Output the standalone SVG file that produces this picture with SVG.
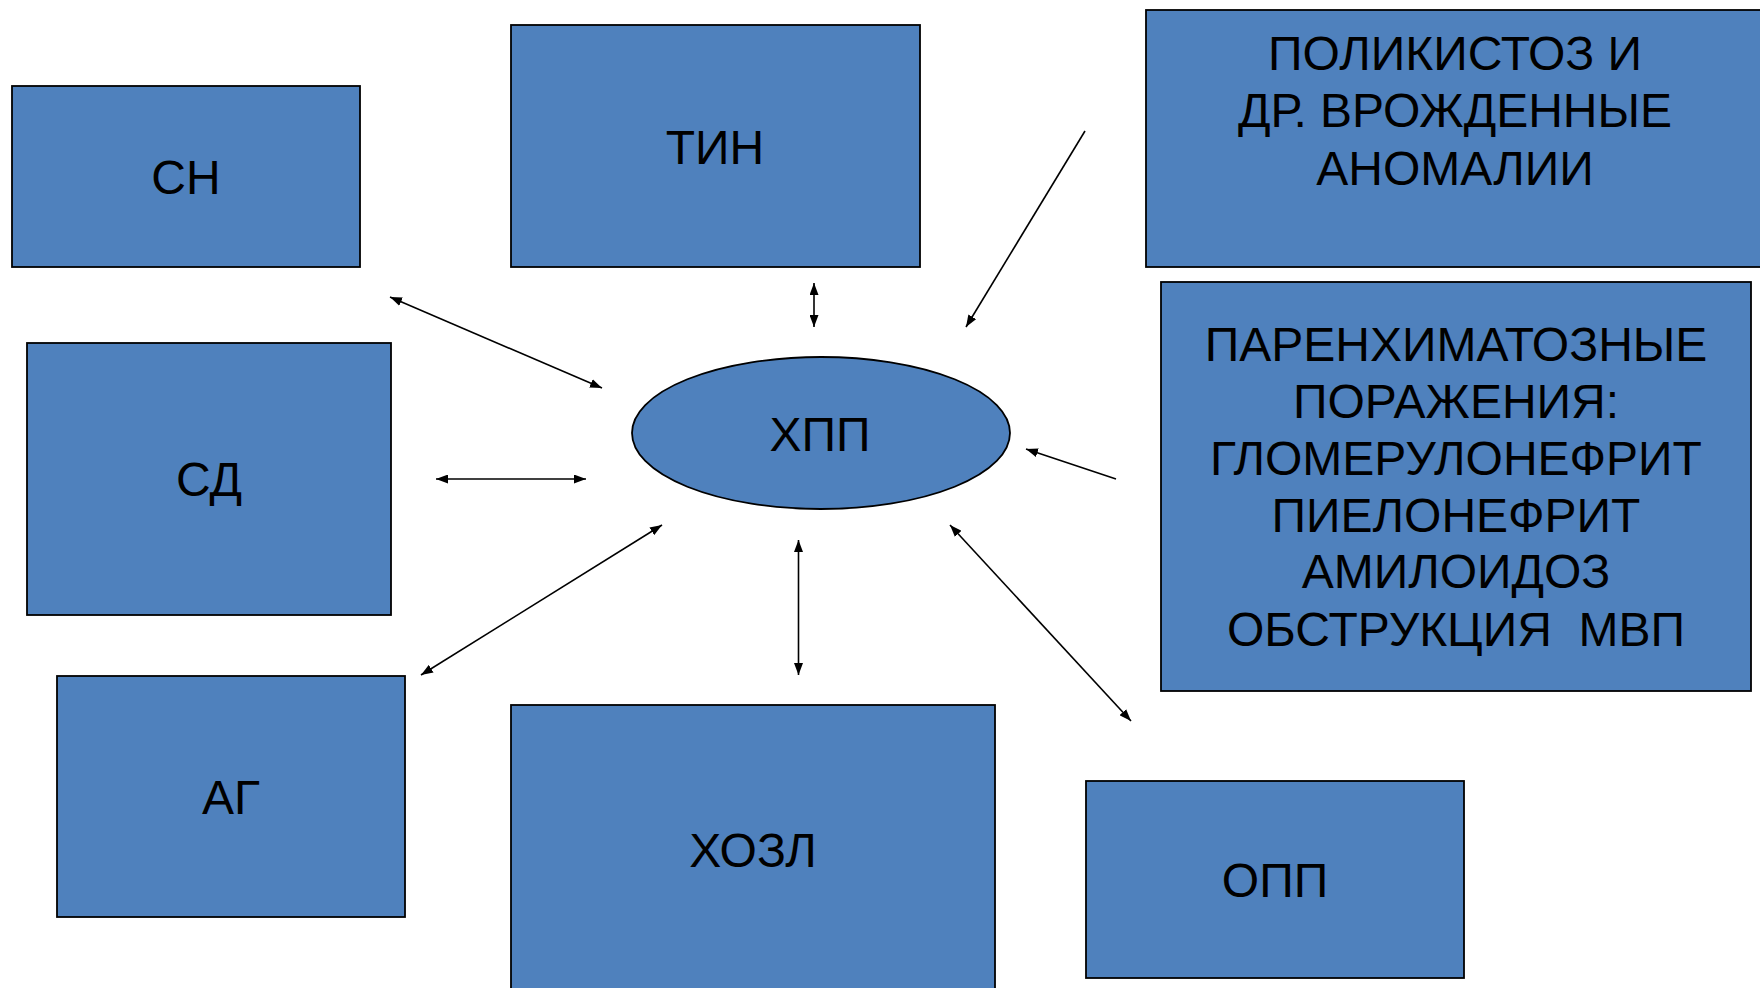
<svg xmlns="http://www.w3.org/2000/svg" width="1760" height="988" viewBox="0 0 1760 988">
<defs>
<style>
.box{fill:#4F81BD;stroke:#000;stroke-width:1.8}
.lbl{font-family:"Liberation Sans",Arial,sans-serif;font-size:48px;fill:#000;text-anchor:middle}
.con{stroke:#000;stroke-width:1.6;fill:none;marker-end:url(#ah)}
.dbl{marker-start:url(#ahs)}
</style>
<marker id="ah" markerUnits="userSpaceOnUse" markerWidth="12" markerHeight="9" refX="12" refY="4.5" orient="auto"><path d="M0,0 L12,4.5 L0,9 z" fill="#000"/></marker>
<marker id="ahs" markerUnits="userSpaceOnUse" markerWidth="12" markerHeight="9" refX="0" refY="4.5" orient="auto"><path d="M12,0 L0,4.5 L12,9 z" fill="#000"/></marker>
</defs>
<rect width="1760" height="988" fill="#fff"/>
<g id="connectors">
<line class="con dbl" x1="390" y1="297" x2="602" y2="388"/>
<line class="con dbl" x1="814" y1="283" x2="814" y2="327"/>
<line class="con" x1="1085" y1="131" x2="966" y2="327"/>
<line class="con" x1="1116" y1="479" x2="1026" y2="449"/>
<line class="con dbl" x1="436" y1="479" x2="586" y2="479"/>
<line class="con dbl" x1="421" y1="675" x2="662" y2="525"/>
<line class="con dbl" x1="798.5" y1="540" x2="798.5" y2="675"/>
<line class="con dbl" x1="950" y1="525" x2="1131" y2="721"/>
</g>
<g id="node-sn"><rect class="box" x="12" y="86" width="348" height="181"/><text class="lbl" x="186" y="194">СН</text></g>
<g id="node-tin"><rect class="box" x="511" y="25" width="409" height="242"/><text class="lbl" x="715" y="164">ТИН</text></g>
<g id="node-polik"><rect class="box" x="1146" y="10" width="620" height="257"/><text class="lbl"><tspan x="1455" y="70">ПОЛИКИСТОЗ И</tspan><tspan x="1455" y="127">ДР. ВРОЖДЕННЫЕ</tspan><tspan x="1455" y="185">АНОМАЛИИ</tspan></text></g>
<g id="node-paren"><rect class="box" x="1161" y="282" width="590" height="409"/><text class="lbl"><tspan x="1456" y="361">ПАРЕНХИМАТОЗНЫЕ</tspan><tspan x="1456" y="418">ПОРАЖЕНИЯ:</tspan><tspan x="1456" y="475">ГЛОМЕРУЛОНЕФРИТ</tspan><tspan x="1456" y="532">ПИЕЛОНЕФРИТ</tspan><tspan x="1456" y="588">АМИЛОИДОЗ</tspan><tspan x="1456" y="646" xml:space="preserve">ОБСТРУКЦИЯ  МВП</tspan></text></g>
<g id="node-xpp"><ellipse class="box" cx="821" cy="433" rx="189" ry="76"/><text class="lbl" x="820" y="451">ХПП</text></g>
<g id="node-sd"><rect class="box" x="27" y="343" width="364" height="272"/><text class="lbl" x="209" y="496">СД</text></g>
<g id="node-ag"><rect class="box" x="57" y="676" width="348" height="241"/><text class="lbl" x="231" y="814">АГ</text></g>
<g id="node-hozl"><rect class="box" x="511" y="705" width="484" height="300"/><text class="lbl" x="753" y="867">ХОЗЛ</text></g>
<g id="node-opp"><rect class="box" x="1086" y="781" width="378" height="197"/><text class="lbl" x="1275" y="897">ОПП</text></g>
</svg>
